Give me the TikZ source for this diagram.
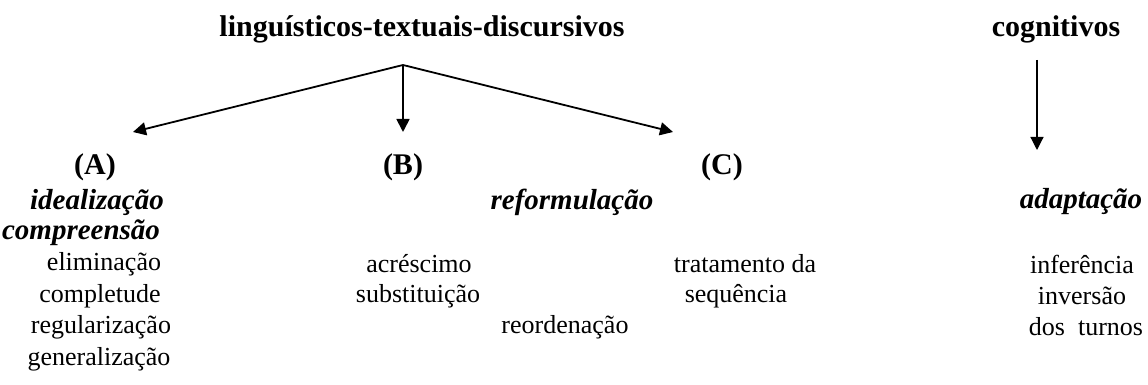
\documentclass[tikz,border=0pt]{standalone}
\usepackage{fontspec}
\setmainfont{Liberation Serif}
\usetikzlibrary{arrows.meta}

\tikzset{
  head/.style={font=\fontsize{15}{17}\selectfont\bfseries, inner sep=0pt},
  kind/.style={font=\fontsize{14.5}{16}\selectfont\bfseries\itshape, inner sep=0pt},
  op/.style={font=\fontsize{13}{15}\selectfont, inner sep=0pt},
  tip/.style={-{Triangle[length=6.5pt,width=6.5pt]}, line width=0.9pt}
}

\begin{document}
\begin{tikzpicture}[x=0.5pt, y=-0.5pt]
    \useasboundingbox (0,0) rectangle (1148,385);
    % Headings
    \node[head] (ltd) at (422,29) {linguísticos-textuais-discursivos};
    \node[head] (cog) at (1056,29) {cognitivos};
    % Arrows
    \coordinate (apex) at (403,65);
    \coordinate (tipA) at (133,132);
    \coordinate (tipB) at (403,132);
    \coordinate (tipC) at (673,132);
    \coordinate (cogtop) at (1037,60);
    \coordinate (cogtip) at (1037,150);
    \draw[tip] (apex) -- (tipA);
    \draw[tip] (apex) -- (tipB);
    \draw[tip] (apex) -- (tipC);
    \draw[tip, line width=0.6pt] (cogtop) -- (cogtip);
    % Groups
    \node[head] (A) at (95,167) {(A)};
    \node[head] (B) at (403,167) {(B)};
    \node[head] (C) at (722,167) {(C)};
    \node[kind] (ideal) at (97,202) {idealização};
    \node[kind] (reform) at (572,202) {reformulação};
    \node[kind] (adapt) at (1081,202) {adaptação};
    \node[kind] (compr) at (81,233) {compreensão};
    % Operations
    \node[op] (elim) at (104,264) {eliminação};
    \node[op] (compl) at (100,296) {completude};
    \node[op] (regul) at (101,327) {regularização};
    \node[op] (gener) at (99,359) {generalização};
    \node[op] (acres) at (419,264) {acréscimo};
    \node[op] (subst) at (418,296) {substituição};
    \node[op] (reord) at (565,327) {reordenação};
    \node[op] (trat) at (745,264) {tratamento da};
    \node[op] (seq) at (736,296) {sequência};
    \node[op] (infer) at (1082,264) {inferência};
    \node[op] (invers) at (1082,296) {inversão};
    \node[op] (turnos) at (1086,327) {dos\ \ turnos};
\end{tikzpicture}
\end{document}
